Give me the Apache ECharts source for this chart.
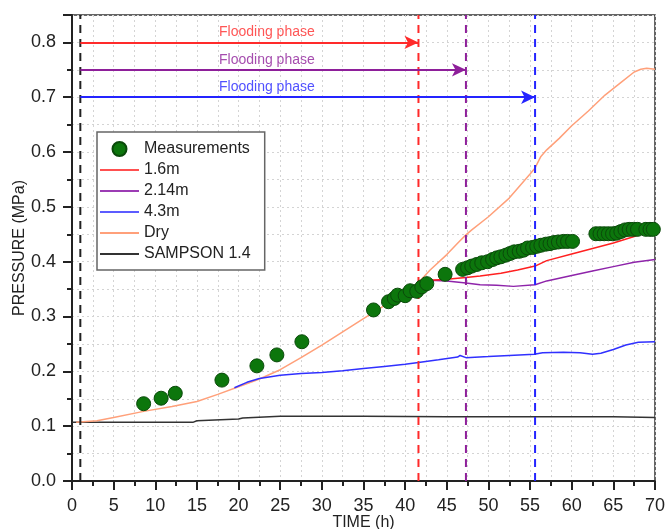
<!DOCTYPE html>
<html>
<head>
<meta charset="utf-8">
<script src="https://cdn.jsdelivr.net/npm/echarts@6/dist/echarts.min.js"></script>
<style>html,body{margin:0;padding:0;background:#fff;}#c{width:665px;height:529px;}</style>
</head>
<body>
<div id="c"></div>
<script>
// ---- data ----
const measurements = [[8.6,0.141],[10.7,0.151],[12.4,0.160],[18.0,0.184],[22.2,0.210],[24.6,0.230],[27.6,0.254],
 [36.2,0.312],[38.0,0.327],[38.7,0.333],[39.1,0.339],[40.0,0.338],[40.6,0.347],[41.4,0.346],[42.0,0.354],[42.6,0.360],
 [44.8,0.377],[46.9,0.386],[47.5,0.389],[48.0,0.392],[48.6,0.395],[49.2,0.398],[49.9,0.400],[50.5,0.404],[51.0,0.407],
 [51.5,0.409],[52.1,0.412],[52.6,0.415],[53.1,0.418],[53.7,0.419],[54.2,0.421],[54.7,0.425],[55.3,0.426],[55.8,0.428],
 [56.3,0.430],[56.9,0.432],[57.4,0.433],[57.9,0.435],[58.4,0.436],[59.0,0.437],[59.5,0.437],[60.1,0.437],
 [62.9,0.451],[63.4,0.451],[63.9,0.451],[64.4,0.451],[64.9,0.451],[65.4,0.452],[65.9,0.455],[66.4,0.458],[66.9,0.459],
 [67.4,0.459],[67.9,0.459],[68.9,0.459],[69.4,0.459],[69.8,0.459]];
const series16 = [[41.6,0.362],[43,0.366],[45,0.368],[47.3,0.371],[49,0.374],[51.5,0.379],[53.5,0.385],[55.6,0.392],
 [57,0.402],[60,0.414],[62.5,0.424],[65,0.434],[67.5,0.446],[70,0.459]];
const series214 = [[41.6,0.362],[43,0.366],[45,0.365],[47.3,0.361],[49,0.358],[51,0.357],[53,0.355],[55.6,0.358],
 [57,0.365],[60,0.375],[62.5,0.383],[65,0.391],[67.5,0.399],[70,0.404]];
const series43 = [[19.5,0.170],[21,0.180],[22.5,0.187],[25,0.193],[27.5,0.196],[30,0.198],[32.5,0.201],[35,0.205],
 [37.5,0.209],[40,0.213],[41.6,0.216],[44,0.221],[46.3,0.226],[46.6,0.229],[47.3,0.225],[50,0.227],[52.5,0.229],
 [55.5,0.231],[56.5,0.234],[59,0.235],[61,0.234],[62.5,0.231],[63.5,0.233],[65,0.240],[66.5,0.248],[68,0.253],[70,0.254]];
const seriesDry = [[0.5,0.107],[3,0.110],[5,0.116],[8.6,0.127],[12,0.136],[15,0.145],[17.5,0.158],[20,0.172],
 [22.5,0.186],[25,0.203],[27.5,0.225],[30,0.248],[32.5,0.272],[35,0.296],[37.5,0.320],[40,0.344],[41.6,0.362],
 [43,0.385],[45,0.413],[46.5,0.437],[47.3,0.449],[48,0.458],[50,0.482],[52.5,0.516],[55,0.560],[55.6,0.571],
 [56.3,0.592],[57,0.604],[58.5,0.625],[60,0.648],[62,0.675],[64,0.704],[66,0.728],[67.5,0.746],[68.3,0.751],
 [69,0.753],[70,0.751]];
const sampson = [[0,0.107],[14.5,0.107],[15,0.110],[20,0.113],[20.5,0.115],[25,0.118],[35,0.118],[45,0.117],
 [55,0.117],[65,0.117],[70,0.116]];
const phaseEnds = [41.6, 47.3, 55.6];          // end of flooding phase (h)
const phaseLevels = [0.80, 0.75, 0.70];        // arrow heights (MPa)
const phaseColors = ['#ff2a2a', '#8e1f9a', '#2424ff'];
const startLine = 1.0;                          // black dashed start line
const phaseLabel = 'Flooding phase';
const phaseLabelX = 23.4;
const xTicks = [0,70,5];
const yTicks = [0,0.85,0.1];
const legendNames = ['Measurements','1.6m','2.14m','4.3m','Dry','SAMPSON 1.4'];

const chart = echarts.init(document.getElementById('c'), null, {renderer:'canvas'});
const FONT = 'Liberation Sans, Arial, sans-serif';
const LINE_ICON = 'path://M0,0 L40,0 L40,2 L0,2 Z';

const vlines = [];
vlines.push({type:'line', data:[[startLine,0],[startLine,0.85]], symbol:'none', silent:true,
  lineStyle:{color:'#222', width:2, type:[8,6]}, z:3});
phaseEnds.forEach((x,i)=>{
  vlines.push({type:'line', data:[[x,0],[x,0.85]], symbol:'none', silent:true,
    lineStyle:{color:phaseColors[i], width:2, type:[8,6]}, z:3});
  vlines.push({type:'line', data:[], silent:true,
    markLine:{silent:true, symbol:['none','arrow'], symbolSize:[10,14], animation:false,
      lineStyle:{color:phaseColors[i], width:2, type:'solid'}, label:{show:false},
      data:[[{coord:[startLine,phaseLevels[i]]},{coord:[x,phaseLevels[i]]}]]}});
  vlines.push({type:'scatter', data:[[phaseLabelX,phaseLevels[i]]], symbolSize:0, silent:true,
    label:{show:true, position:'top', distance:3, formatter:phaseLabel, color:phaseColors[i], fontSize:14, fontFamily:FONT}});
});

const option = {
  animation:false,
  backgroundColor:'#fff',
  grid:{left:72, right:10, top:15, bottom:48, containLabel:false, outerBoundsMode:'none',
    show:true, borderColor:'#333', borderWidth:1.5, backgroundColor:'transparent'},
  legend:{
    data:legendNames.map((n,i)=> i===0 ? {name:n, icon:'circle'} : {name:n, icon:LINE_ICON}),
    orient:'vertical', left:97, top:132,
    backgroundColor:'#fff', borderColor:'#666', borderWidth:1.5, padding:[9,14,8,3],
    itemWidth:39, itemHeight:14, itemGap:5,
    textStyle:{fontSize:16, color:'#222', fontFamily:FONT}
  },
  xAxis:{
    type:'value', min:xTicks[0], max:xTicks[1], interval:xTicks[2],
    name:'TIME (h)', nameLocation:'middle', nameGap:34, nameMoveOverlap:false,
    nameTextStyle:{fontSize:16, color:'#222', fontFamily:FONT},
    axisLine:{show:true, onZero:false, lineStyle:{color:'#222', width:2}},
    axisTick:{show:true, length:9, lineStyle:{color:'#222', width:2}},
    minorTick:{show:true, splitNumber:2, length:5, lineStyle:{color:'#222', width:2}},
    axisLabel:{fontSize:18, color:'#222', margin:16, fontFamily:FONT},
    splitLine:{show:true, lineStyle:{color:'#d4d4d4', type:[2,3], width:1}},
    minorSplitLine:{show:true, lineStyle:{color:'#d4d4d4', type:[2,3], width:1}}
  },
  yAxis:{
    type:'value', min:yTicks[0], max:yTicks[1], interval:yTicks[2],
    name:'PRESSURE (MPa)', nameLocation:'middle', nameGap:44, nameMoveOverlap:false,
    nameTextStyle:{fontSize:16, color:'#222', fontFamily:FONT},
    axisLine:{show:true, onZero:false, lineStyle:{color:'#222', width:2}},
    axisTick:{show:true, length:9, lineStyle:{color:'#222', width:2}},
    minorTick:{show:true, splitNumber:2, length:5, lineStyle:{color:'#222', width:2}},
    axisLabel:{fontSize:18, color:'#222', margin:16, fontFamily:FONT,
      formatter:v=> (v>0.81 ? '' : v.toFixed(1))},
    splitLine:{show:true, lineStyle:{color:'#d4d4d4', type:[2,3], width:1}},
    minorSplitLine:{show:true, lineStyle:{color:'#d4d4d4', type:[2,3], width:1}}
  },
  series:[
    {name:'SAMPSON 1.4', type:'line', data:sampson, symbol:'none', lineStyle:{color:'#333', width:1.5}, itemStyle:{color:'#333'}, z:2},
    {name:'Dry', type:'line', data:seriesDry, symbol:'none', lineStyle:{color:'#ffa07a', width:1.5}, itemStyle:{color:'#ffa07a'}, z:2},
    {name:'4.3m', type:'line', data:series43, symbol:'none', lineStyle:{color:'#3030ff', width:1.5}, itemStyle:{color:'#5c5cff'}, z:2},
    {name:'2.14m', type:'line', data:series214, symbol:'none', lineStyle:{color:'#8e24aa', width:1.5}, itemStyle:{color:'#9c3cb4'}, z:2},
    {name:'1.6m', type:'line', data:series16, symbol:'none', lineStyle:{color:'#ff2020', width:1.5}, itemStyle:{color:'#ff5050'}, z:2},
    ...vlines,
    {name:'Measurements', type:'scatter', data:measurements, symbol:'circle', symbolSize:14,
      itemStyle:{color:'#0c760c', borderColor:'#0a4a0a', borderWidth:1, opacity:1}, z:5}
  ]
};
chart.setOption(option);
</script>
</body>
</html>
